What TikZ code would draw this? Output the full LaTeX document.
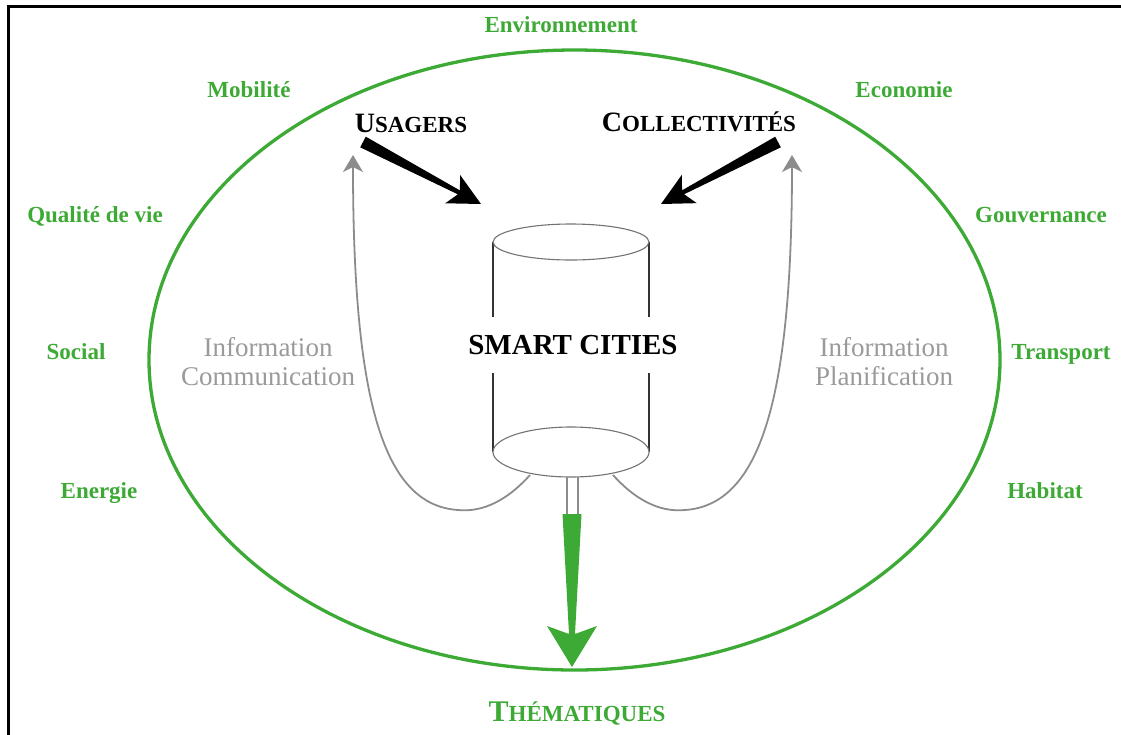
\documentclass[tikz,border=0pt]{standalone}
\usepackage{fontspec}
\setmainfont{Liberation Serif}
\usetikzlibrary{calc,arrows.meta}
\definecolor{vert}{HTML}{3DAA35}
\definecolor{grislab}{HTML}{9A9A9A}
\definecolor{grisfl}{HTML}{8C8C8C}
\newcommand\taperarrow[8]{%
  % #1 start, #2 tip, #3 start half width, #4 shaft end half width,
  % #5 head length, #6 head half width, #7 notch distance, #8 colour
  \coordinate (tb) at ($(#2)!#5pt!(#1)$);
  \coordinate (tn) at ($(#2)!#7pt!(#1)$);
  \fill[#8] ($(#1)!#3pt!90:(#2)$) -- ($(tn)!#4pt!90:(#2)$) -- ($(tb)!#6pt!90:(#2)$)
    -- (#2) -- ($(tb)!#6pt!-90:(#2)$) -- ($(tn)!#4pt!-90:(#2)$) -- ($(#1)!#3pt!-90:(#2)$) -- cycle;}
\tikzset{
  theme/.style={text=vert,font=\fontsize{23}{26}\selectfont\bfseries,anchor=base,inner sep=0pt},
  flux/.style={text=grislab,font=\fontsize{27}{29}\selectfont,align=center,inner sep=0pt},
  grisline/.style={draw=grisfl,line width=1.8pt},
}
\begin{document}
\begin{tikzpicture}[x=1pt,y=-1pt]
\useasboundingbox (0,0) rectangle (1121,734);
% frame
\draw[line width=2.7pt] (1125,6.2) -- (8.7,6.2) -- (8.7,740);
% big ellipse
\draw[vert,line width=3.3pt] (574.5,360) ellipse [x radius=425.5, y radius=310];
% theme labels
\node[theme] (env) at (561,32) {Environnement};
\node[theme] (mob) at (249,97) {Mobilité};
\node[theme] (eco) at (904,97) {Economie};
\node[theme] (qdv) at (95,222) {Qualité de vie};
\node[theme] (gouv) at (1041,222) {Gouvernance};
\node[theme] (soc) at (76,359) {Social};
\node[theme] (trans) at (1061,359) {Transport};
\node[theme] (ener) at (99,498) {Energie};
\node[theme] (hab) at (1045,498) {Habitat};
\node[text=vert,anchor=base,inner sep=0pt,font=\bfseries] (them) at (577,721)
  {\fontsize{30}{32}\selectfont T\fontsize{23}{26}\selectfont HÉMATIQUES};
% actors
\node[anchor=base,inner sep=0pt,font=\bfseries] (usa) at (411,132)
  {\fontsize{28}{30}\selectfont U\fontsize{23}{26}\selectfont SAGERS};
\node[anchor=base,inner sep=0pt,font=\bfseries] (col) at (699,131)
  {\fontsize{28}{30}\selectfont C\fontsize{23}{26}\selectfont OLLECTIVITÉS};
% cylinder
\coordinate (ctop) at (571,242);
\coordinate (cbot) at (571,452);
\draw[black!80,line width=1.3pt] (493,242) -- (493,452) (649,242) -- (649,452);
\draw[black!55,line width=1.1pt,fill=white] (ctop) ellipse [x radius=78, y radius=18];
\node[font=\fontsize{29}{32}\selectfont\bfseries,fill=white,inner xsep=6pt,minimum height=56pt] (sc) at (573,345) {SMART CITIES};
% feedback curves
\coordinate (lstart) at (530,475);
\coordinate (lbot) at (458,510);
\coordinate (ltip) at (353,155);
\coordinate (rstart) at (613,475);
\coordinate (rbot) at (685,510);
\coordinate (rtip) at (792,155);
\draw[grisline,-{Stealth[length=17pt,width=20pt,inset=5pt]}] (lstart) .. controls (503,505) and (478,512) .. (lbot)
  .. controls (383,505) and (353,400) .. (ltip);
\draw[grisline,-{Stealth[length=17pt,width=20pt,inset=5pt]}] (rstart) .. controls (640,505) and (665,512) .. (rbot)
  .. controls (760,505) and (792,400) .. (rtip);
\draw[black!55,line width=1.1pt,fill=white] (cbot) ellipse [x radius=78, y radius=25];
\node[flux] (ic) at (268,362) {Information\\Communication};
\node[flux] (ip) at (884,362) {Information\\Planification};
% black arrows
\coordinate (us) at (363,142);
\coordinate (ut) at (481,204);
\taperarrow{us}{ut}{6}{2.2}{32}{16}{25}{black}
\coordinate (cs) at (778,142);
\coordinate (ct) at (661,204);
\taperarrow{cs}{ct}{6}{2.2}{32}{16}{25}{black}
% stem and green arrow
\draw[grisfl,line width=1.6pt] (567,477) -- (567,514) (578,477) -- (578,514);
\coordinate (gs) at (572,514);
\coordinate (gt) at (572,667);
\taperarrow{gs}{gt}{9.5}{3}{41}{25}{33}{vert}
\end{tikzpicture}
\end{document}
